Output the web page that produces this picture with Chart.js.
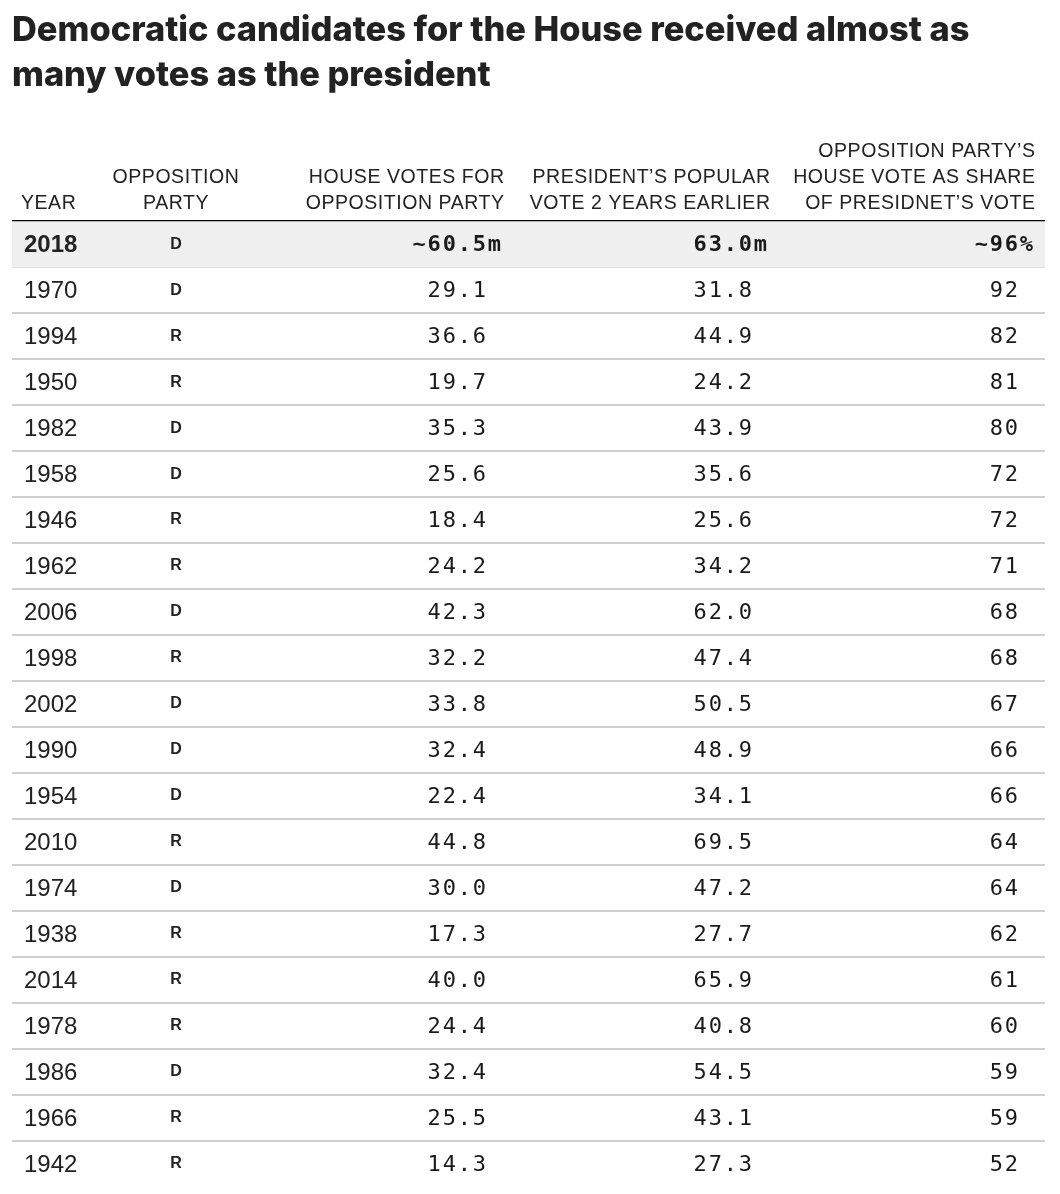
<!DOCTYPE html>
<html>
<head>
<meta charset="utf-8">
<script src="https://cdn.jsdelivr.net/npm/chart.js@4/dist/chart.umd.min.js"></script>
<style>
  html, body { margin: 0; padding: 0; background: #fff; }
  #wrap { width: 1060px; height: 1194px; position: relative; }
</style>
</head>
<body>
<div id="wrap"><canvas id="table"></canvas></div>
<script>
// rows in the order the table lists them (2018 = current estimate)
const years = ['2018', '1970', '1994', '1950', '1982', '1958', '1946', '1962', '2006', '1998', '2002',
               '1990', '1954', '2010', '1974', '1938', '2014', '1978', '1986', '1966', '1942'];
const parties = ['D', 'D', 'R', 'R', 'D', 'D', 'R', 'R', 'D', 'R', 'D',
                 'D', 'D', 'R', 'D', 'R', 'R', 'R', 'D', 'R', 'R'];
const houseVotes = [60.5, 29.1, 36.6, 19.7, 35.3, 25.6, 18.4, 24.2, 42.3, 32.2, 33.8,
                    32.4, 22.4, 44.8, 30.0, 17.3, 40.0, 24.4, 32.4, 25.5, 14.3];
const presVotes = [63.0, 31.8, 44.9, 24.2, 43.9, 35.6, 25.6, 34.2, 62.0, 47.4, 50.5,
                   48.9, 34.1, 69.5, 47.2, 27.7, 65.9, 40.8, 54.5, 43.1, 27.3];
const shares = [96, 92, 82, 81, 80, 72, 72, 71, 68, 68, 67,
                66, 66, 64, 64, 62, 61, 60, 59, 59, 52];
const headers = [
  ['YEAR'],
  ['OPPOSITION', 'PARTY'],
  ['HOUSE VOTES FOR', 'OPPOSITION PARTY'],
  ['PRESIDENT’S POPULAR', 'VOTE 2 YEARS EARLIER'],
  ['OPPOSITION PARTY’S', 'HOUSE VOTE AS SHARE', 'OF PRESIDNET’S VOTE']
];

const TEXT = '#222';
const MONO = '"DejaVu Sans Mono", monospace';
const SANS = '"Liberation Sans", Arial, sans-serif';

// column anchors (x) and alignment
const cols = [
  { x: 24, align: 'left' },
  { x: 176, align: 'center' },
  { x: 486, align: 'right', head: 504 },
  { x: 752, align: 'right', head: 770 },
  { x: 1018, align: 'right', head: 1035 }
];

function drawSpaced(ctx, text, x, y, align, ls) {
  ctx.letterSpacing = ls + 'px';
  ctx.textAlign = align;
  ctx.fillText(text, align === 'right' ? x + ls : x, y);
  ctx.letterSpacing = '0px';
}

const tableText = {
  id: 'tableText',
  afterDraw(chart) {
    const { ctx, chartArea, scales } = chart;
    const y = scales.y;
    ctx.save();
    ctx.fillStyle = TEXT;
    ctx.textBaseline = 'middle';

    // header
    ctx.font = '19.5px ' + SANS;
    headers.forEach((lines, c) => {
      const n = lines.length;
      lines.forEach((line, k) => {
        const ly = chartArea.top - 18 - (n - 1 - k) * 26;
        const col = cols[c];
        const hx = col.head || (c === 0 ? 21 : col.x);
        drawSpaced(ctx, line, hx, ly, col.align, 0.55);
      });
    });

    // body
    years.forEach((yr, i) => {
      const py = y.getPixelForValue(i);
      const est = i === 0;
      ctx.fillStyle = TEXT;
      ctx.font = (est ? 'bold ' : '') + '24px ' + SANS;
      ctx.textAlign = 'left';
      ctx.fillText(yr, cols[0].x, py + 1.5);

      ctx.font = 'bold 16px ' + SANS;
      ctx.textAlign = 'center';
      ctx.fillText(parties[i], cols[1].x, py);

      ctx.fillStyle = '#1a1a1a';
      ctx.font = (est ? 'bold ' : '') + '22px ' + MONO;
      const ls = 1.8;
      const cells = [
        { v: (est ? '~' : '') + houseVotes[i].toFixed(1), s: est ? 'm' : '' },
        { v: presVotes[i].toFixed(1), s: est ? 'm' : '' },
        { v: (est ? '~' : '') + shares[i], s: est ? '%' : '' }
      ];
      cells.forEach((cell, k) => {
        ctx.letterSpacing = ls + 'px';
        const sw = cell.s ? ctx.measureText(cell.s).width : 0;
        ctx.letterSpacing = '0px';
        drawSpaced(ctx, cell.v + cell.s, cols[k + 2].x + sw, py + 1, 'right', ls);
      });
    });
    ctx.restore();
  }
};

const ctx = document.getElementById('table').getContext('2d');
const table = new Chart(ctx, {
  type: 'bar',
  data: {
    labels: years,
    datasets: [{
      // shaded row for the 2018 estimate
      data: years.map((_, i) => i === 0 ? [0, 1] : null),
      backgroundColor: '#efefef',
      borderWidth: 0,
      barPercentage: 1,
      categoryPercentage: 1
    }]
  },
  options: {
    indexAxis: 'y',
    responsive: true,
    maintainAspectRatio: false,
    animation: false,
    layout: { padding: { left: 12, right: 15, top: 0, bottom: 7 } },
    scales: {
      x: { display: false, min: 0, max: 1 },
      y: {
        z: 1,
        offset: true,
        border: { display: false },
        ticks: { display: false },
        grid: {
          offset: true,
          drawTicks: false,
          color: c => c.index === undefined ? 'rgba(0,0,0,0)' : (c.index === 0 ? '#000' : '#cfcfcf'),
          lineWidth: c => c.index === 0 ? 2.5 : 2
        },
        afterFit: s => { s.width = 0; }
      }
    },
    plugins: {
      legend: { display: false },
      tooltip: { enabled: false },
      title: {
        display: true,
        align: 'start',
        text: ['Democratic candidates for the House received almost as',
               'many votes as the president'],
        color: TEXT,
        font: { family: 'Inter, Roboto, sans-serif', size: 34.4, weight: 800, lineHeight: 1.31 },
        padding: { top: 8, bottom: 123 }
      }
    }
  },
  plugins: [tableText]
});
</script>
</body>
</html>
